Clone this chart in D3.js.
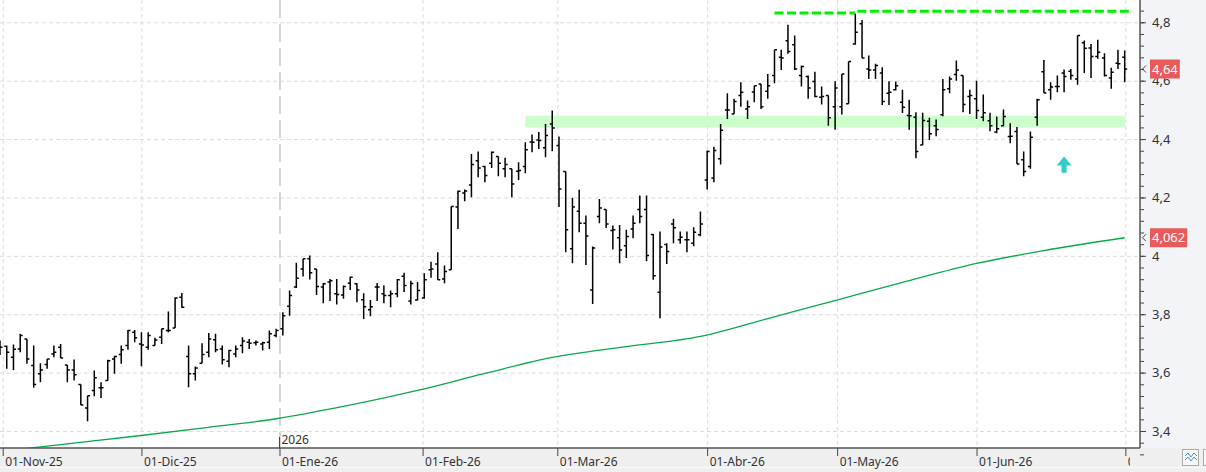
<!DOCTYPE html>
<html>
<head>
<meta charset="utf-8">
<script src="https://cdn.jsdelivr.net/npm/d3@7"></script>
<style>
  html, body { margin: 0; padding: 0; background: #fff; }
  svg { display: block; font-family: "Noto Sans", "Open Sans", sans-serif; }
</style>
</head>
<body>
<svg id="chart" width="1206" height="472"></svg>
<script>
// daily OHLC, one value per trading day (index 0 = 31-Oct-25)
const open = [
  3.700,3.690,3.653,3.681,3.715,3.624,3.596,3.628,3.664,3.687,
  3.626,3.609,3.559,3.479,3.539,3.548,3.573,3.647,3.662,3.693,
  3.738,3.698,3.687,3.693,3.721,3.744,3.753,3.858,3.655,3.596,
  3.632,3.670,3.713,3.681,3.639,3.664,3.693,3.704,3.702,3.698,
  3.704,3.727,3.750,3.827,3.893,3.955,3.990,3.955,3.893,3.910,
  3.870,3.866,3.906,3.904,3.850,3.815,3.893,3.870,3.864,3.870,
  3.930,3.845,3.849,3.856,3.952,3.972,3.921,3.952,4.167,4.215,
  4.243,4.326,4.306,4.317,4.340,4.298,4.298,4.290,4.306,4.390,
  4.397,4.370,4.452,4.378,4.289,4.024,4.153,4.112,3.883,4.135,
  4.159,4.087,4.062,4.035,4.092,4.159,4.159,4.073,3.875,4.039,
  4.109,4.055,4.055,4.043,4.072,4.260,4.267,4.333,4.500,4.486,
  4.549,4.503,4.561,4.589,4.564,4.618,4.680,4.737,4.723,4.618,
  4.614,4.597,4.543,4.549,4.511,4.511,4.521,4.726,4.795,4.640,
  4.637,4.626,4.557,4.569,4.526,4.481,4.475,4.380,4.461,4.446,
  4.483,4.572,4.621,4.618,4.546,4.538,4.475,4.463,4.424,4.446,
  4.409,4.426,4.329,4.306,4.475,4.631,4.569,4.580,4.626,4.632,
  4.606,4.730,4.712,4.683,4.678,4.609,4.660,4.680
];
const high = [
  3.710,3.693,3.696,3.733,3.715,3.693,3.632,3.647,3.693,3.698,
  3.626,3.645,3.559,3.521,3.607,3.567,3.644,3.658,3.693,3.746,
  3.746,3.738,3.738,3.719,3.750,3.809,3.858,3.873,3.693,3.621,
  3.701,3.736,3.733,3.693,3.678,3.693,3.721,3.715,3.710,3.706,
  3.744,3.750,3.807,3.881,3.976,3.990,4.001,3.955,3.907,3.921,
  3.921,3.898,3.929,3.906,3.872,3.849,3.907,3.898,3.881,3.921,
  3.942,3.915,3.910,3.940,3.980,4.012,3.967,4.169,4.224,4.227,
  4.349,4.357,4.309,4.357,4.340,4.336,4.298,4.321,4.389,4.416,
  4.424,4.452,4.498,4.409,4.289,4.199,4.226,4.138,4.032,4.195,
  4.159,4.104,4.106,4.089,4.138,4.207,4.207,4.075,4.083,4.043,
  4.127,4.083,4.083,4.098,4.152,4.361,4.374,4.452,4.557,4.538,
  4.595,4.532,4.583,4.589,4.623,4.706,4.706,4.792,4.755,4.652,
  4.618,4.631,4.580,4.549,4.598,4.623,4.666,4.829,4.808,4.686,
  4.658,4.646,4.598,4.597,4.569,4.535,4.492,4.490,4.473,4.467,
  4.606,4.614,4.669,4.618,4.569,4.600,4.553,4.490,4.477,4.501,
  4.454,4.441,4.357,4.426,4.538,4.671,4.595,4.618,4.638,4.640,
  4.755,4.738,4.726,4.740,4.694,4.644,4.706,4.703
];
const low = [
  3.660,3.613,3.609,3.670,3.630,3.548,3.567,3.613,3.653,3.650,
  3.567,3.573,3.489,3.433,3.519,3.513,3.571,3.596,3.630,3.678,
  3.704,3.622,3.678,3.693,3.698,3.738,3.753,3.822,3.550,3.573,
  3.632,3.653,3.670,3.628,3.618,3.653,3.666,3.681,3.693,3.676,
  3.681,3.721,3.727,3.795,3.890,3.929,3.919,3.866,3.838,3.845,
  3.833,3.853,3.883,3.841,3.784,3.793,3.845,3.838,3.824,3.858,
  3.876,3.833,3.847,3.853,3.925,3.918,3.906,3.952,4.092,4.187,
  4.201,4.269,4.252,4.301,4.273,4.269,4.201,4.260,4.283,4.355,
  4.366,4.338,4.358,4.167,4.012,3.975,4.081,3.969,3.835,4.112,
  4.095,4.022,3.975,3.993,4.060,4.112,3.982,3.918,3.786,3.972,
  4.043,4.041,4.012,4.033,4.067,4.227,4.252,4.313,4.469,4.486,
  4.511,4.469,4.526,4.503,4.538,4.591,4.637,4.692,4.637,4.580,
  4.538,4.543,4.518,4.446,4.432,4.484,4.521,4.723,4.678,4.606,
  4.606,4.517,4.517,4.566,4.489,4.432,4.334,4.380,4.397,4.410,
  4.478,4.557,4.600,4.492,4.486,4.469,4.461,4.427,4.420,4.444,
  4.386,4.315,4.273,4.298,4.446,4.558,4.535,4.560,4.560,4.603,
  4.586,4.626,4.609,4.675,4.614,4.572,4.640,4.595
];
const close = [
  3.687,3.670,3.680,3.727,3.647,3.559,3.609,3.647,3.670,3.650,
  3.609,3.593,3.489,3.521,3.582,3.548,3.641,3.655,3.678,3.744,
  3.719,3.695,3.727,3.712,3.750,3.744,3.856,3.824,3.596,3.616,
  3.662,3.715,3.678,3.644,3.676,3.681,3.708,3.701,3.704,3.702,
  3.733,3.744,3.795,3.864,3.923,3.990,3.942,3.895,3.904,3.915,
  3.868,3.895,3.927,3.883,3.826,3.826,3.893,3.864,3.870,3.918,
  3.898,3.905,3.881,3.918,3.955,3.918,3.946,4.169,4.221,4.222,
  4.313,4.301,4.275,4.355,4.317,4.313,4.246,4.292,4.363,4.389,
  4.395,4.412,4.438,4.229,4.089,4.167,4.112,4.068,4.027,4.164,
  4.109,4.089,4.020,4.066,4.112,4.135,4.001,3.932,4.030,4.015,
  4.096,4.064,4.055,4.081,4.109,4.357,4.361,4.430,4.500,4.529,
  4.560,4.511,4.583,4.511,4.583,4.706,4.678,4.700,4.640,4.649,
  4.575,4.546,4.546,4.473,4.575,4.623,4.666,4.766,4.678,4.637,
  4.652,4.529,4.560,4.583,4.509,4.480,4.357,4.464,4.418,4.433,
  4.569,4.606,4.637,4.518,4.549,4.498,4.490,4.446,4.435,4.477,
  4.410,4.315,4.289,4.406,4.535,4.558,4.578,4.580,4.614,4.618,
  4.755,4.711,4.683,4.697,4.618,4.629,4.658,4.640
];

// long moving average, read at a few bars
const maIdx = [0, 10, 20, 30, 41, 51, 62, 72, 82, 93, 104, 114, 124, 134, 145, 155, 167];
const maVal = [3.330, 3.356, 3.382, 3.410, 3.442, 3.484, 3.539, 3.597, 3.652, 3.689,
               3.724, 3.785, 3.847, 3.909, 3.974, 4.018, 4.062];

// x axis: month starts, as bar positions
const monthLabels = ["01-Nov-25", "01-Dic-25", "01-Ene-26", "01-Feb-26", "01-Mar-26",
                     "01-Abr-26", "01-May-26", "01-Jun-26", "01-Jul-26"];
const monthPos = [0.4, 21, 41.5, 62.75, 82.75, 105, 124.3, 145, 167.1];
const yearPos = 41.5;
const yearLabel = "2026";

// y axis ticks
const yTicks = [3.4, 3.6, 3.8, 4.0, 4.2, 4.4, 4.6, 4.8];

// drawn studies
const zoneFrom = 78, zoneTo = 167.1, zoneLow = 4.44, zoneHigh = 4.48;
const resFrom = [115, 127.3], resTo = [127, 168], resVal = [4.832, 4.838];
const arrowIdx = 158, arrowTip = 4.34, arrowBase = 4.285;

const width = 1206, height = 472;
const plotW = 1140, plotH = 448;

const svg = d3.select('#chart');
const x = d3.scaleLinear().domain([0, 167]).range([0, 1124.7]);
const y = d3.scaleLinear().domain([3.4, 4.8]).range([431, 22.3]);
const comma = d => d3.format('.3~f')(d).replace('.', ',');

svg.append('rect').attr('width', width).attr('height', height).attr('fill', '#fff');
svg.append('rect').attr('x', plotW).attr('width', width - plotW).attr('height', plotH).attr('fill', '#f3f4f7');
svg.append('rect').attr('y', plotH).attr('width', width).attr('height', height - plotH).attr('fill', '#efefef');
svg.append('line').attr('x1', 0).attr('x2', width).attr('y1', 467.5).attr('y2', 467.5)
    .attr('stroke', '#fafafa').attr('stroke-width', 1);

svg.append('defs').append('clipPath').attr('id', 'plot')
    .append('rect').attr('width', plotW).attr('height', plotH);
svg.select('defs').append('clipPath').attr('id', 'xlab')
    .append('rect').attr('x', -5).attr('width', 1135).attr('height', 40);

const plot = svg.append('g').attr('clip-path', 'url(#plot)');

// horizontal grid
plot.append('g')
    .call(d3.axisRight(y).tickValues(yTicks).tickSize(plotW).tickFormat(''))
    .call(g => g.select('.domain').remove())
    .selectAll('line').attr('stroke', '#dcdcdc').attr('stroke-dasharray', '4,3');

// vertical grid
plot.append('g')
    .call(d3.axisBottom(x).tickValues(monthPos).tickSize(plotH).tickFormat(''))
    .call(g => g.select('.domain').remove())
    .selectAll('line')
    .attr('stroke', d => d === yearPos ? '#cccccc' : '#dcdcdc')
    .attr('stroke-width', d => d === yearPos ? 1.6 : 1)
    .attr('stroke-dasharray', d => d === yearPos ? '18,6' : '4,3');

// support zone
plot.append('rect')
    .attr('x', x(zoneFrom)).attr('width', x(zoneTo) - x(zoneFrom))
    .attr('y', y(zoneHigh)).attr('height', y(zoneLow) - y(zoneHigh))
    .attr('fill', '#ccffcc');

// moving average
plot.append('path')
    .datum(maIdx.map((d, i) => [d, maVal[i]]))
    .attr('fill', 'none').attr('stroke', '#0aa84a').attr('stroke-width', 1.3)
    .attr('d', d3.line().curve(d3.curveMonotoneX).x(d => x(d[0])).y(d => y(d[1])));

// resistance dashes
plot.selectAll('.res')
    .data(resVal)
    .enter()
    .append('line')
    .attr('x1', (d, i) => x(resFrom[i])).attr('x2', (d, i) => x(resTo[i]))
    .attr('y1', d => y(d)).attr('y2', d => y(d))
    .attr('stroke', '#00f000').attr('stroke-width', 3).attr('stroke-dasharray', '9,3.5');

// OHLC bars
const tick = 2.5;
plot.append('g')
    .selectAll('path')
    .data(open.map((o, i) => ({i: i, o: o, h: high[i], l: low[i], c: close[i]})))
    .enter()
    .append('path')
    .attr('fill', 'none').attr('stroke', '#000').attr('stroke-width', 1.5)
    .attr('d', function(d) {
      const cx = x(d.i);
      return 'M' + cx + ',' + y(d.h) + 'V' + y(d.l) +
             'M' + (cx - tick) + ',' + y(d.o) + 'H' + cx +
             'M' + cx + ',' + y(d.c) + 'H' + (cx + tick);
    });

// cyan arrow
const ax = x(arrowIdx), ayT = y(arrowTip), ayB = y(arrowBase);
const headY = ayT + 9;
plot.append('path')
    .attr('fill', '#33cccc')
    .attr('d', 'M' + ax + ',' + ayT + 'L' + (ax + 7.5) + ',' + headY + 'H' + (ax + 2.6) +
               'V' + ayB + 'H' + (ax - 2.6) + 'V' + headY + 'H' + (ax - 7.5) + 'Z');

// y axis
const yAxis = svg.append('g').attr('transform', 'translate(' + plotW + ',0)');
yAxis.append('g')
    .call(d3.axisRight(y).tickValues(d3.range(3.32, 4.88, 0.04)).tickSize(4).tickFormat(''))
    .call(g => g.select('.domain').remove())
    .selectAll('line').attr('stroke', '#444');
yAxis.append('g')
    .call(d3.axisRight(y).tickValues(yTicks).tickSize(6).tickPadding(6).tickFormat(comma))
    .call(g => g.select('.domain').remove())
    .call(g => g.selectAll('line').attr('stroke', '#444'))
    .selectAll('text').attr('font-size', 13).attr('fill', '#333').attr('font-family', '"Noto Sans", sans-serif');
yAxis.append('line').attr('y1', 0).attr('y2', plotH).attr('stroke', '#555').attr('stroke-width', 1.5);

// x axis
const xAxis = svg.append('g').attr('transform', 'translate(0,' + plotH + ')');
xAxis.append('g').attr('clip-path', 'url(#xlab)')
    .call(d3.axisBottom(x).tickValues(monthPos).tickSize(8).tickPadding(1)
      .tickFormat((d, i) => monthLabels[i]))
    .call(g => g.select('.domain').remove())
    .call(g => g.selectAll('line').attr('stroke', '#444'))
    .selectAll('text')
    .attr('text-anchor', 'start').attr('x', 2)
    .attr('font-size', 12).attr('fill', '#333').attr('font-family', '"Noto Sans", sans-serif');
xAxis.append('line').attr('x1', 0).attr('x2', plotW).attr('stroke', '#555').attr('stroke-width', 1.5);

// year marker
svg.append('line').attr('x1', x(yearPos)).attr('x2', x(yearPos)).attr('y1', 437).attr('y2', plotH)
    .attr('stroke', '#444');
svg.append('text').attr('x', x(yearPos) + 2).attr('y', 444)
    .attr('font-size', 12).attr('fill', '#333').text(yearLabel);

// last value tags
const tags = [close[close.length - 1], maVal[maVal.length - 1]];
const tagG = svg.selectAll('.tag').data(tags).enter().append('g')
    .attr('transform', d => 'translate(0,' + y(d) + ')');
tagG.append('path')
    .attr('d', 'M1146,-3.5L1142.5,0L1146,3.5')
    .attr('fill', 'none').attr('stroke', '#444').attr('stroke-width', 1);
tagG.append('text')
    .attr('x', 1152).attr('dy', '0.36em')
    .attr('font-size', 13).attr('fill', '#fff')
    .text(d => comma(d));
tagG.insert('rect', 'text')
    .attr('x', 1150).attr('y', -9.5).attr('height', 19)
    .attr('width', function() {
      return this.parentNode.querySelector('text').getComputedTextLength() + 4;
    })
    .attr('fill', '#e85b5b');

// corner button
svg.append('rect').attr('x', 1182.5).attr('y', 449.5).attr('width', 16).attr('height', 16)
    .attr('fill', '#f8f8f8').attr('stroke', '#aaa');
svg.append('path').attr('d', 'M1185,456l3,-3l3,4l3,-4l3,3M1185,460l3,-3l3,4l3,-4l3,3')
    .attr('fill', 'none').attr('stroke', '#4a90d9').attr('stroke-width', 1);
svg.append('rect').attr('x', 1203.5).attr('y', 449.5).attr('width', 16).attr('height', 16)
    .attr('fill', '#f8f8f8').attr('stroke', '#aaa');
</script>
</body>
</html>
